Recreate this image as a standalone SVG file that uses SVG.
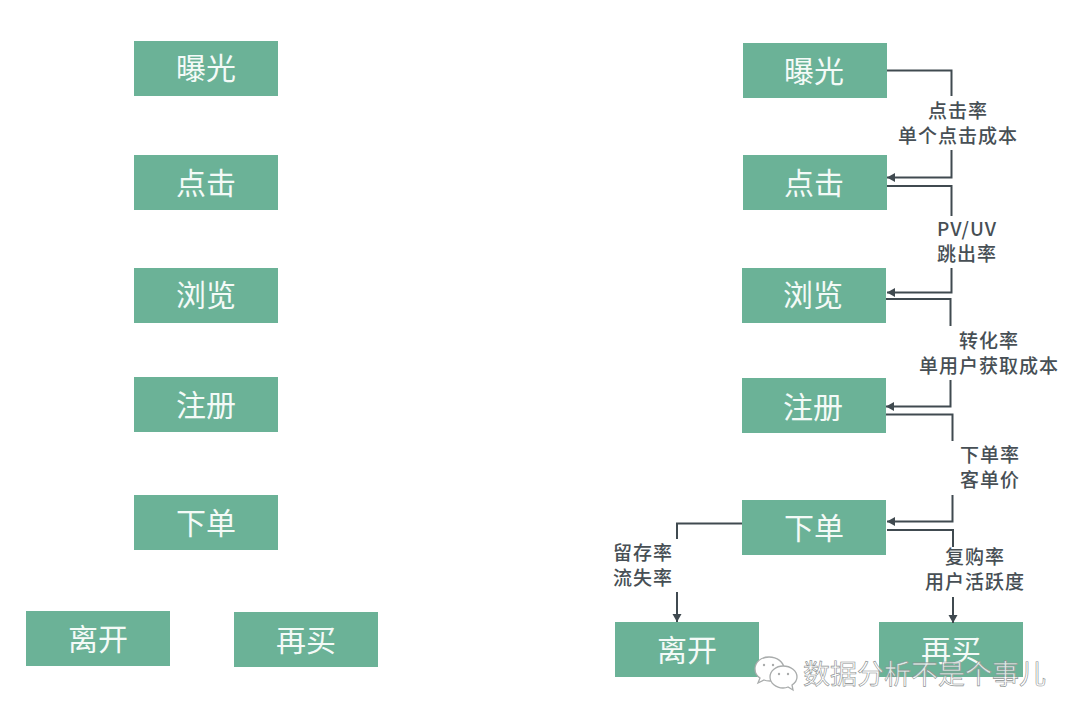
<svg xmlns="http://www.w3.org/2000/svg" width="1080" height="721" viewBox="0 0 1080 721">
<defs>
<marker id="arr" markerUnits="userSpaceOnUse" markerWidth="9" markerHeight="10" refX="8" refY="5" orient="auto"><path d="M0 0.500L8 5L0 9.500Z" fill="#404a50"/></marker>
</defs>
<style>
.n{fill:#6bb297}
.t{font-family:"Noto Sans CJK SC","Liberation Sans",sans-serif;font-size:30px;fill:#f4faf7;text-anchor:middle}
.l{font-family:"Noto Sans CJK SC","Liberation Sans",sans-serif;font-size:19px;font-weight:500;fill:#474f55;text-anchor:middle;letter-spacing:1px}
.c{fill:none;stroke:#404a50;stroke-width:2}
.w{font-family:"Noto Sans CJK SC","Liberation Sans",sans-serif;font-size:27px;fill:#fff;stroke:#8b8f8f;stroke-width:.6px;fill-opacity:.75}
.b{fill:#fff;stroke:#a9acac;stroke-width:1.3}
.d{fill:#a9acac}
</style>
<rect width="1080" height="721" fill="#fff"/>
<g id="left-exposure"><rect class="n" x="134" y="41" width="144" height="55"/><text class="t" x="206" y="79">曝光</text></g>
<g id="left-click"><rect class="n" x="134" y="155" width="144" height="55"/><text class="t" x="206" y="194">点击</text></g>
<g id="left-browse"><rect class="n" x="134" y="268" width="144" height="55"/><text class="t" x="206" y="306">浏览</text></g>
<g id="left-register"><rect class="n" x="134" y="377" width="144" height="55"/><text class="t" x="206" y="416">注册</text></g>
<g id="left-order"><rect class="n" x="134" y="495" width="144" height="55"/><text class="t" x="206" y="534">下单</text></g>
<g id="left-leave"><rect class="n" x="26" y="611" width="144" height="55"/><text class="t" x="98" y="650">离开</text></g>
<g id="left-rebuy"><rect class="n" x="234" y="612" width="144" height="55"/><text class="t" x="306" y="651">再买</text></g>
<g id="right-exposure"><rect class="n" x="743" y="43" width="144" height="55"/><text class="t" x="814" y="82">曝光</text></g>
<g id="right-click"><rect class="n" x="743" y="155" width="144" height="55"/><text class="t" x="814" y="194">点击</text></g>
<g id="right-browse"><rect class="n" x="742" y="268" width="144" height="55"/><text class="t" x="813" y="306">浏览</text></g>
<g id="right-register"><rect class="n" x="742" y="378" width="144" height="55"/><text class="t" x="813" y="418">注册</text></g>
<g id="right-order"><rect class="n" x="742" y="500" width="144" height="55"/><text class="t" x="814" y="539">下单</text></g>
<g id="right-leave"><rect class="n" x="615" y="622" width="144" height="55"/><text class="t" x="687" y="661">离开</text></g>
<g id="right-rebuy"><rect class="n" x="879" y="622" width="144" height="55"/><text class="t" x="951" y="661">再买</text></g>
<g id="connectors">
<path class="c" d="M887 70.500H951.500V96"/>
<path class="c" d="M951.500 150V177.500H887" marker-end="url(#arr)"/>
<path class="c" d="M887 186H951.500V216"/>
<path class="c" d="M951.500 268V292.500H887" marker-end="url(#arr)"/>
<path class="c" d="M886 299H950.500V326"/>
<path class="c" d="M950.500 380V406.500H886" marker-end="url(#arr)"/>
<path class="c" d="M886 414.500H952.500V441"/>
<path class="c" d="M952.500 495V521.500H887" marker-end="url(#arr)"/>
<path class="c" d="M887 530H953V547"/>
<path class="c" d="M953 597V623" marker-end="url(#arr)"/>
<path class="c" d="M742 523.500H677V539"/>
<path class="c" d="M677 592V622" marker-end="url(#arr)"/>
</g>
<g id="labels">
<text class="l" x="958" y="118">点击率</text><text class="l" x="958" y="143">单个点击成本</text>
<text class="l" x="967" y="236">PV/UV</text><text class="l" x="967" y="261">跳出率</text>
<text class="l" x="989" y="348">转化率</text><text class="l" x="989" y="373">单用户获取成本</text>
<text class="l" x="990" y="462">下单率</text><text class="l" x="990" y="487">客单价</text>
<text class="l" x="975" y="564">复购率</text><text class="l" x="975" y="589">用户活跃度</text>
<text class="l" x="643" y="560">留存率</text><text class="l" x="643" y="585">流失率</text>
</g>
<g id="watermark">
<path class="b" d="M769 657c-8 0-14 5-14 12 0 4 2 7 5 9l-2 5 6-3c2 1 4 1 6 1 8 0 14-5 14-12s-7-12-15-12z"/>
<path class="b" d="M783 666c-7 0-13 5-13 11s6 11 13 11c2 0 3 0 5-1l5 3-1-5c3-2 5-5 5-8 0-6-6-11-14-11z"/>
<circle class="d" cx="764" cy="665" r="1.200"/><circle class="d" cx="773" cy="665" r="1.200"/>
<circle class="d" cx="779" cy="674" r="1.200"/><circle class="d" cx="788" cy="674" r="1.200"/>
<text class="w" x="803" y="684">数据分析不是个事儿</text>
</g>
</svg>
